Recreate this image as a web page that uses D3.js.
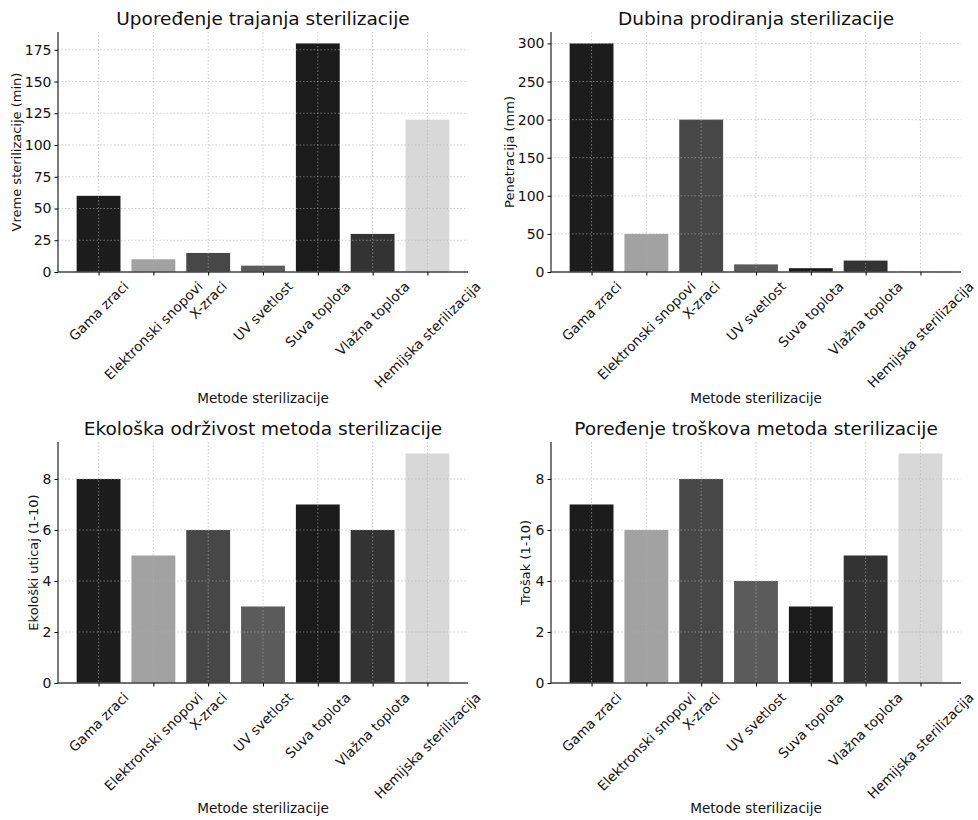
<!DOCTYPE html>
<html><head><meta charset="utf-8">
<script src="https://cdn.jsdelivr.net/npm/d3@7"></script>
<style>body{margin:0;background:#fff;} text{font-family:"DejaVu Sans",sans-serif;fill:#111;}</style>
</head><body><svg id="c" width="978" height="820"></svg>
<script>
const categories = ["Gama zraci","Elektronski snopovi","X-zraci","UV svetlost","Suva toplota","Vlažna toplota","Hemijska sterilizacija"];
const barColors = ["#1c1c1c","#a2a2a2","#474747","#5b5b5b","#1b1b1b","#333333","#d8d8d8"];
const durationValues = [60,10,15,5,180,30,120];
const penetrationValues = [300,50,200,10,5,15,1];
const ecoValues = [8,5,6,3,7,6,9];
const costValues = [7,6,8,4,3,5,9];
const durationTicks = [0,25,50,75,100,125,150,175];
const penetrationTicks = [0,50,100,150,200,250,300];
const scoreTicks = [0,2,4,6,8];
const xLabel = "Metode sterilizacije";

const panels = [
  {title:"Upoređenje trajanja sterilizacije", ylabel:"Vreme sterilizacije (min)", values:durationValues, ticks:durationTicks, left:58, right:468, top:32, bottom:272, ylx:16, xly:398},
  {title:"Dubina prodiranja sterilizacije", ylabel:"Penetracija (mm)", values:penetrationValues, ticks:penetrationTicks, left:551, right:961, top:32, bottom:272, ylx:509, xly:398},
  {title:"Ekološka održivost metoda sterilizacije", ylabel:"Ekološki uticaj (1-10)", values:ecoValues, ticks:scoreTicks, left:58, right:468, top:442, bottom:683, ylx:33, xly:808},
  {title:"Poređenje troškova metoda sterilizacije", ylabel:"Trošak (1-10)", values:costValues, ticks:scoreTicks, left:551, right:961, top:442, bottom:683, ylx:525, xly:808}
];

const svg = d3.select("#c");
panels.forEach(p => {
  const g = svg.append("g");
  const n = categories.length;
  const x = d3.scaleLinear().domain([-0.74, n - 1 + 0.74]).range([p.left, p.right]);
  const y = d3.scaleLinear().domain([0, d3.max(p.values) * 1.05]).range([p.bottom, p.top]);
  const bw = x(0.8) - x(0);
  g.selectAll("rect.bar").data(p.values).join("rect")
    .attr("x", (d,i) => x(i) - bw/2).attr("width", bw)
    .attr("y", d => y(d)).attr("height", d => y(0) - y(d))
    .attr("fill", (d,i) => barColors[i]);
  const grid = g.append("g").attr("stroke", "#b0b0b0").attr("stroke-opacity", 0.75).attr("stroke-width", 0.8).attr("stroke-dasharray", "1.5,2");
  p.ticks.forEach(t => grid.append("line").attr("x1", p.left).attr("x2", p.right).attr("y1", y(t)).attr("y2", y(t)));
  categories.forEach((c,i) => grid.append("line").attr("x1", x(i)).attr("x2", x(i)).attr("y1", p.top).attr("y2", p.bottom));
  const ya = d3.axisLeft(y).tickValues(p.ticks).tickSize(3.5).tickPadding(3).tickFormat(d3.format("d"));
  const yg = g.append("g").attr("transform", `translate(${p.left},0)`).call(ya);
  yg.select(".domain").attr("d", `M0,${p.top}V${p.bottom}`).attr("stroke", "#222").attr("stroke-width", 1.2);
  yg.selectAll("text").attr("font-size", 14).style("font-family", "DejaVu Sans");
  const xa = d3.axisBottom(x).tickValues(d3.range(n)).tickSize(3.5).tickFormat("");
  const xg = g.append("g").attr("transform", `translate(0,${p.bottom})`).call(xa);
  xg.select(".domain").attr("d", `M${p.left},0H${p.right}`).attr("stroke", "#444").attr("stroke-width", 1.5);
  categories.forEach((c,i) => {
    const t = g.append("text").attr("font-size", 13.6).attr("text-anchor", "middle").attr("dominant-baseline", "central").text(c);
    const w = t.node().getComputedTextLength();
    const h = 13.6;
    const bh = (w + h) * Math.SQRT1_2;
    const cx = x(i), cy = p.bottom + 7 + bh/2;
    t.attr("transform", `translate(${cx},${cy}) rotate(-45)`);
  });
  g.append("text").attr("x", (p.left + p.right)/2).attr("y", p.top - 7).attr("text-anchor", "middle").attr("font-size", 18.5).text(p.title);
  g.append("text").attr("x", (p.left + p.right)/2).attr("y", p.xly).attr("text-anchor", "middle").attr("dominant-baseline", "central").attr("font-size", 13.6).text(xLabel);
  g.append("text").attr("transform", `translate(${p.ylx},${(p.top + p.bottom)/2}) rotate(-90)`).attr("text-anchor", "middle").attr("dominant-baseline", "central").attr("font-size", 13).text(p.ylabel);
});
</script></body></html>
